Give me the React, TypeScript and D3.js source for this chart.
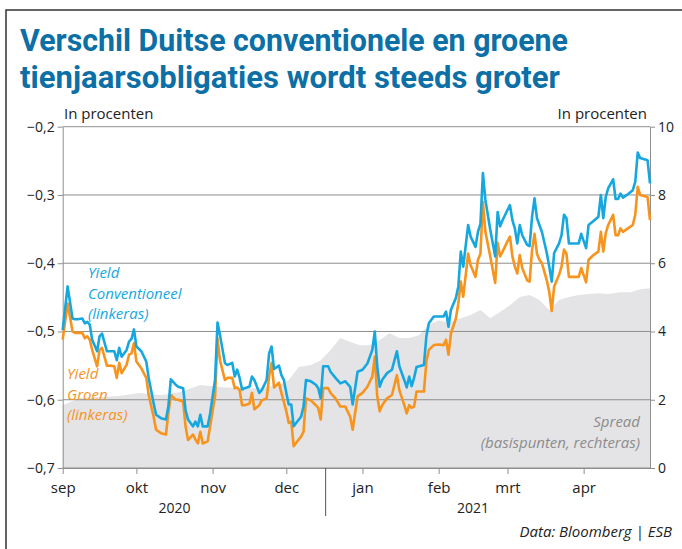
import React, { useEffect, useRef } from 'react';
import * as d3 from 'd3';

// ==== data

const dates = [
  '2020-09-01', '2020-09-03', '2020-09-05', '2020-09-06', '2020-09-07', '2020-09-09', '2020-09-10', '2020-09-11',
  '2020-09-12', '2020-09-13', '2020-09-15', '2020-09-16', '2020-09-17', '2020-09-19', '2020-09-20', '2020-09-22',
  '2020-09-23', '2020-09-24', '2020-09-25', '2020-09-27', '2020-09-28', '2020-09-29', '2020-09-30',
  '2020-10-01', '2020-10-03', '2020-10-05', '2020-10-06', '2020-10-08', '2020-10-09', '2020-10-11', '2020-10-13',
  '2020-10-14', '2020-10-15', '2020-10-17', '2020-10-18', '2020-10-20', '2020-10-21', '2020-10-22', '2020-10-24',
  '2020-10-25', '2020-10-26', '2020-10-27', '2020-10-28', '2020-10-30', '2020-10-31',
  '2020-11-02', '2020-11-03', '2020-11-04', '2020-11-06', '2020-11-07', '2020-11-09', '2020-11-10', '2020-11-11',
  '2020-11-12', '2020-11-13', '2020-11-14', '2020-11-16', '2020-11-17', '2020-11-18', '2020-11-20', '2020-11-21',
  '2020-11-23', '2020-11-24', '2020-11-25', '2020-11-26', '2020-11-28', '2020-11-29', '2020-11-30',
  '2020-12-01', '2020-12-02', '2020-12-03', '2020-12-04', '2020-12-05', '2020-12-07', '2020-12-08', '2020-12-09',
  '2020-12-11', '2020-12-13', '2020-12-14', '2020-12-15', '2020-12-16', '2020-12-18', '2020-12-19', '2020-12-21',
  '2020-12-23', '2020-12-25', '2020-12-27', '2020-12-28', '2020-12-30',
  '2021-01-01', '2021-01-03', '2021-01-05', '2021-01-06', '2021-01-07', '2021-01-08', '2021-01-09', '2021-01-11',
  '2021-01-13', '2021-01-15', '2021-01-16', '2021-01-18', '2021-01-19', '2021-01-20', '2021-01-21', '2021-01-22',
  '2021-01-23', '2021-01-26', '2021-01-27', '2021-01-28', '2021-01-30',
  '2021-02-01', '2021-02-03', '2021-02-04', '2021-02-05', '2021-02-06', '2021-02-08', '2021-02-09', '2021-02-10',
  '2021-02-11', '2021-02-13', '2021-02-14', '2021-02-16', '2021-02-17', '2021-02-18', '2021-02-19', '2021-02-20',
  '2021-02-22', '2021-02-24', '2021-02-25', '2021-02-26', '2021-02-27',
  '2021-03-01', '2021-03-02', '2021-03-03', '2021-03-04', '2021-03-05', '2021-03-06', '2021-03-07', '2021-03-09',
  '2021-03-10', '2021-03-11', '2021-03-12', '2021-03-13', '2021-03-14', '2021-03-15', '2021-03-17', '2021-03-18',
  '2021-03-19', '2021-03-20', '2021-03-22', '2021-03-23', '2021-03-24', '2021-03-25', '2021-03-26', '2021-03-28',
  '2021-03-30', '2021-03-31',
  '2021-04-02', '2021-04-03', '2021-04-05', '2021-04-07', '2021-04-08', '2021-04-09', '2021-04-10', '2021-04-11',
  '2021-04-13', '2021-04-14', '2021-04-15', '2021-04-16', '2021-04-17', '2021-04-19', '2021-04-21', '2021-04-22',
  '2021-04-23', '2021-04-24', '2021-04-27', '2021-04-28'
];

// yield conventionele Bund, in procent
const conventioneel = [
  -0.498, -0.434, -0.481, -0.482, -0.482, -0.481, -0.488, -0.486, -0.490, -0.512, -0.529, -0.507, -0.503, -0.529,
  -0.529, -0.529, -0.542, -0.524, -0.537, -0.527, -0.515, -0.511, -0.497,
  -0.522, -0.529, -0.544, -0.568, -0.605, -0.622, -0.627, -0.629, -0.610, -0.570, -0.578, -0.581, -0.583, -0.615,
  -0.629, -0.639, -0.632, -0.639, -0.622, -0.639, -0.639, -0.620,
  -0.571, -0.487, -0.505, -0.546, -0.549, -0.546, -0.566, -0.556, -0.568, -0.585, -0.583, -0.581, -0.566, -0.571,
  -0.590, -0.586, -0.571, -0.532, -0.522, -0.555, -0.550, -0.564, -0.571,
  -0.590, -0.607, -0.607, -0.639, -0.634, -0.625, -0.610, -0.571, -0.573, -0.578, -0.583, -0.598, -0.551, -0.551,
  -0.559, -0.568, -0.576, -0.573, -0.581, -0.607, -0.559,
  -0.556, -0.547, -0.527, -0.500, -0.551, -0.581, -0.571, -0.561, -0.556, -0.529, -0.551, -0.571, -0.582, -0.566,
  -0.580, -0.568, -0.552, -0.549, -0.507, -0.488, -0.478,
  -0.478, -0.478, -0.471, -0.493, -0.468, -0.451, -0.434, -0.383, -0.405, -0.344, -0.361, -0.376, -0.354, -0.342,
  -0.268, -0.307, -0.351, -0.390, -0.325, -0.346, -0.337,
  -0.322, -0.315, -0.337, -0.349, -0.371, -0.344, -0.359, -0.373, -0.375, -0.332, -0.305, -0.334, -0.344, -0.354,
  -0.385, -0.405, -0.427, -0.385, -0.371, -0.359, -0.329, -0.334, -0.371, -0.371, -0.371, -0.357,
  -0.378, -0.344, -0.338, -0.332, -0.300, -0.334, -0.303, -0.290, -0.277, -0.306, -0.306, -0.298, -0.304, -0.299,
  -0.293, -0.281, -0.238, -0.246, -0.249, -0.283
];

// yield groene Bund, in procent
const groen = [
  -0.512, -0.459, -0.500, -0.502, -0.502, -0.502, -0.510, -0.507, -0.512, -0.527, -0.551, -0.527, -0.524, -0.550,
  -0.550, -0.551, -0.568, -0.546, -0.561, -0.549, -0.534, -0.532, -0.517,
  -0.544, -0.554, -0.568, -0.593, -0.625, -0.644, -0.649, -0.651, -0.620, -0.593, -0.600, -0.600, -0.603, -0.639,
  -0.659, -0.651, -0.658, -0.664, -0.647, -0.664, -0.661, -0.639,
  -0.595, -0.510, -0.542, -0.571, -0.568, -0.568, -0.583, -0.582, -0.586, -0.608, -0.608, -0.606, -0.590, -0.614,
  -0.608, -0.601, -0.598, -0.566, -0.546, -0.582, -0.575, -0.590, -0.603,
  -0.617, -0.634, -0.632, -0.668, -0.663, -0.654, -0.647, -0.598, -0.601, -0.608, -0.612, -0.629, -0.583, -0.583,
  -0.590, -0.598, -0.610, -0.610, -0.625, -0.644, -0.595,
  -0.590, -0.581, -0.566, -0.537, -0.595, -0.617, -0.608, -0.598, -0.593, -0.564, -0.586, -0.608, -0.620, -0.608,
  -0.612, -0.610, -0.588, -0.588, -0.544, -0.527, -0.520,
  -0.519, -0.520, -0.512, -0.534, -0.503, -0.481, -0.459, -0.427, -0.449, -0.386, -0.403, -0.420, -0.395, -0.386,
  -0.310, -0.354, -0.390, -0.429, -0.370, -0.390, -0.383,
  -0.368, -0.361, -0.390, -0.405, -0.415, -0.388, -0.407, -0.425, -0.427, -0.381, -0.357, -0.386, -0.395, -0.400,
  -0.425, -0.442, -0.470, -0.434, -0.417, -0.405, -0.380, -0.386, -0.420, -0.420, -0.420, -0.407,
  -0.428, -0.395, -0.388, -0.383, -0.354, -0.383, -0.356, -0.344, -0.329, -0.359, -0.359, -0.349, -0.354, -0.349,
  -0.344, -0.329, -0.288, -0.300, -0.303, -0.337
];

// spread in basispunten (rechteras)
const spreadDates = [
  '2020-09-01', '2020-09-08', '2020-09-16', '2020-09-24', '2020-10-02', '2020-10-11', '2020-10-19', '2020-10-27',
  '2020-11-04', '2020-11-12', '2020-11-20', '2020-11-28', '2020-12-02', '2020-12-06', '2020-12-11', '2020-12-15',
  '2020-12-19', '2020-12-23', '2020-12-27', '2020-12-31', '2021-01-04', '2021-01-08', '2021-01-12', '2021-01-16',
  '2021-01-20', '2021-01-24', '2021-01-28', '2021-02-01', '2021-02-05', '2021-02-10', '2021-02-14', '2021-02-18',
  '2021-02-22', '2021-02-26', '2021-03-02', '2021-03-06', '2021-03-10', '2021-03-14', '2021-03-18', '2021-03-20',
  '2021-03-22', '2021-03-26', '2021-03-30', '2021-04-03', '2021-04-07', '2021-04-11', '2021-04-16', '2021-04-20',
  '2021-04-24', '2021-04-28'
];
const spread = [
  1.84, 2.05, 2.08, 2.11, 2.20, 2.14, 2.23, 2.43, 2.37, 2.34, 2.34, 2.43, 2.58, 2.96, 3.02, 3.16,
  3.46, 3.81, 3.69, 3.60, 3.60, 3.75, 3.95, 3.81, 3.81, 3.89, 4.19, 4.33, 4.25, 4.39, 4.48, 4.63,
  4.39, 4.57, 4.77, 5.01, 5.07, 4.92, 4.63, 4.77, 4.92, 5.01, 5.07, 5.10, 5.12, 5.10, 5.15, 5.15,
  5.24, 5.27
];

const leftTicks = [-0.7, -0.6, -0.5, -0.4, -0.3, -0.2];
const rightTicks = [0, 2, 4, 6, 8, 10];
const monthTicks = ['2020-09-01', '2020-10-01', '2020-11-01', '2020-12-01', '2021-01-01', '2021-02-01', '2021-03-01', '2021-04-01'];
const monthLabels = ['sep', 'okt', 'nov', 'dec', 'jan', 'feb', 'mrt', 'apr'];
const yearLabels = ['2020', '2021'];
const yearBreak = '2020-12-17';

// ====

const W = 682;
const H = 549;
const plot = { left: 62.7, right: 650, top: 126.7, bottom: 468 };
const FONT = '"Open Sans", sans-serif';
const BLUE = '#17a7df';
const ORANGE = '#f7941e';
const GRID = '#8e8e8e';

const parse = d3.timeParse('%Y-%m-%d');

export default function App() {
  const ref = useRef<SVGSVGElement>(null);

  useEffect(() => {
    const svg = d3.select(ref.current);
    svg.selectAll('*').remove();

    const x = d3.scaleTime()
      .domain([parse('2020-09-01') as Date, parse('2021-04-28') as Date])
      .range([plot.left, plot.right]);
    const yL = d3.scaleLinear().domain([-0.7, -0.2]).range([plot.bottom, plot.top]);
    const yR = d3.scaleLinear().domain([0, 10]).range([plot.bottom, plot.top]);

    const rows = dates.map((d, i) => ({ date: parse(d) as Date, conv: conventioneel[i], green: groen[i] }));
    const spreadRows = spreadDates.map((d, i) => ({ date: parse(d) as Date, v: spread[i] }));

    // frame
    svg.append('path')
      .attr('d', `M6,${H} V10 H${W}`)
      .attr('fill', 'none')
      .attr('stroke', '#333')
      .attr('stroke-width', 1.5);

    // title
    const title = [
      { t: 'Verschil Duitse conventionele en groene', y: 51, w: 548 },
      { t: 'tienjaarsobligaties wordt steeds groter', y: 87.5, w: 540 }
    ];
    svg.selectAll('.title')
      .data(title)
      .enter()
      .append('text')
      .attr('class', 'title')
      .attr('x', 20)
      .attr('y', (d) => d.y)
      .attr('textLength', (d) => d.w)
      .attr('lengthAdjust', 'spacingAndGlyphs')
      .style('font-family', 'Roboto, sans-serif')
      .style('font-weight', 700)
      .style('font-size', '31px')
      .style('fill', '#0c6fa5')
      .text((d) => d.t);

    // spread area
    const area = d3.area<{ date: Date; v: number }>()
      .x((d) => x(d.date))
      .y0(yR(0))
      .y1((d) => yR(d.v));
    svg.append('path')
      .datum(spreadRows)
      .attr('d', area)
      .attr('fill', '#e4e4e6');

    // grid
    svg.selectAll('.grid')
      .data(leftTicks)
      .enter()
      .append('line')
      .attr('x1', plot.left)
      .attr('x2', plot.right)
      .attr('y1', (d) => yL(d))
      .attr('y2', (d) => yL(d))
      .attr('stroke', GRID)
      .attr('stroke-width', 1);

    const styleAxis = (g: any, anchor: string) => {
      g.select('.domain').attr('stroke', GRID);
      g.selectAll('.tick line').attr('stroke', GRID);
      g.selectAll('.tick text')
        .attr('fill', '#222')
        .style('font-family', FONT)
        .style('font-size', '14px')
        .attr('text-anchor', anchor);
    };

    const fmtL = (d: number) => d3.format('.1f')(d).replace('.', ',');

    svg.append('g')
      .attr('transform', `translate(${plot.left},0)`)
      .call(d3.axisLeft(yL).tickValues(leftTicks).tickSize(5).tickSizeOuter(0).tickPadding(3).tickFormat(fmtL as any))
      .call((g) => styleAxis(g, 'end'));

    svg.append('g')
      .attr('transform', `translate(${plot.right},0)`)
      .call(d3.axisRight(yR).tickValues(rightTicks).tickSize(5).tickSizeOuter(0).tickPadding(3).tickFormat(d3.format('d') as any))
      .call((g) => styleAxis(g, 'start'));

    const monthDates = monthTicks.map((d) => parse(d) as Date);
    svg.append('g')
      .attr('transform', `translate(0,${plot.bottom})`)
      .call(d3.axisBottom(x).tickValues(monthDates).tickSize(6).tickSizeOuter(0).tickPadding(5)
        .tickFormat(((d: Date, i: number) => monthLabels[i]) as any))
      .call((g) => {
        styleAxis(g, 'middle');
        g.selectAll('.tick text').style('font-size', '15px').attr('dy', '0.9em');
      });

    // year separator + labels
    const xb = x(parse(yearBreak) as Date);
    svg.append('line')
      .attr('x1', xb).attr('x2', xb)
      .attr('y1', plot.bottom).attr('y2', 516)
      .attr('stroke', '#555')
      .attr('stroke-width', 1);

    const yearPos = [
      (x(monthDates[0]) + x(monthDates[3])) / 2,
      (x(monthDates[4]) + x(monthDates[7])) / 2
    ];
    svg.selectAll('.year')
      .data(yearLabels)
      .enter()
      .append('text')
      .attr('x', (d, i) => yearPos[i])
      .attr('y', 513)
      .attr('text-anchor', 'middle')
      .style('font-family', FONT)
      .style('font-size', '14px')
      .style('fill', '#222')
      .text((d) => d);

    // lines
    const lineOf = (key: 'conv' | 'green') => d3.line<typeof rows[0]>()
      .x((d) => x(d.date))
      .y((d) => yL(d[key]));

    svg.append('path')
      .datum(rows)
      .attr('d', lineOf('green'))
      .attr('fill', 'none')
      .attr('stroke', ORANGE)
      .attr('stroke-width', 2.6)
      .attr('stroke-linejoin', 'round');

    svg.append('path')
      .datum(rows)
      .attr('d', lineOf('conv'))
      .attr('fill', 'none')
      .attr('stroke', BLUE)
      .attr('stroke-width', 2.6)
      .attr('stroke-linejoin', 'round');

    // axis units
    svg.append('text')
      .attr('x', 64).attr('y', 119)
      .style('font-family', FONT).style('font-size', '15px').style('fill', '#222')
      .text('In procenten');
    svg.append('text')
      .attr('x', 647).attr('y', 119)
      .attr('text-anchor', 'end')
      .style('font-family', FONT).style('font-size', '15px').style('fill', '#222')
      .text('In procenten');

    // series labels
    const label = (lines: string[], x0: number, y0: number, color: string, anchor: string) => {
      lines.forEach((t, i) => {
        svg.append('text')
          .attr('x', x0)
          .attr('y', y0 + i * 20.5)
          .attr('text-anchor', anchor)
          .style('font-family', FONT)
          .style('font-style', 'italic')
          .style('font-size', '15px')
          .style('fill', color)
          .text(t);
      });
    };
    label(['Yield', 'Conventioneel', '(linkeras)'], 88, 278, BLUE, 'start');
    label(['Yield', 'Groen', '(linkeras)'], 67, 379, ORANGE, 'start');
    label(['Spread', '(basispunten, rechteras)'], 640, 427, '#8c8c8c', 'end');

    // source
    svg.append('text')
      .attr('x', 672).attr('y', 537)
      .attr('text-anchor', 'end')
      .style('font-family', FONT)
      .style('font-style', 'italic')
      .style('font-size', '15px')
      .style('fill', '#222')
      .text('Data: Bloomberg | ESB');
  }, []);

  return (
    <svg
      ref={ref}
      width={W}
      height={H}
      style={{ position: 'absolute', left: 0, top: 0, background: '#fff' }}
    />
  );
}
